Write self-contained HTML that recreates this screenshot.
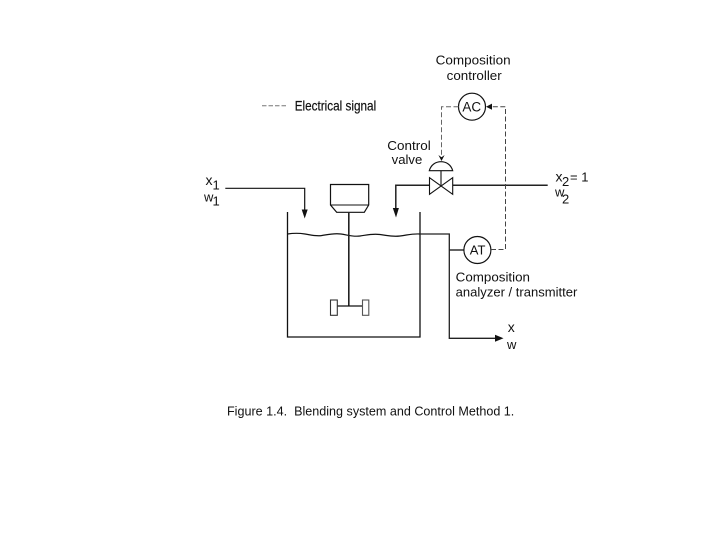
<!DOCTYPE html>
<html>
<head>
<meta charset="utf-8">
<style>
html,body{margin:0;padding:0;background:#fff;width:720px;height:540px;overflow:hidden}
svg{display:block;filter:blur(0.35px)}
text{font-family:"Liberation Sans",sans-serif;fill:#111;font-size:13px}
</style>
</head>
<body>
<svg width="720" height="540" viewBox="0 0 720 540" xmlns="http://www.w3.org/2000/svg">
<rect width="720" height="540" fill="#fff"/>

<!-- Legend -->
<line x1="262" y1="105.7" x2="287" y2="105.7" stroke="#777" stroke-width="1" stroke-dasharray="4.5 2"/>
<text x="294.7" y="110.5" textLength="81.5" lengthAdjust="spacingAndGlyphs" style="font-size:14px;stroke:#111;stroke-width:0.2px">Electrical signal</text>

<!-- Labels -->
<text x="435.7" y="64.5" textLength="75" lengthAdjust="spacingAndGlyphs">Composition</text>
<text x="446.7" y="80" textLength="55" lengthAdjust="spacingAndGlyphs">controller</text>
<text x="387.3" y="150" textLength="43.4" lengthAdjust="spacingAndGlyphs">Control</text>
<text x="391.7" y="164" textLength="30.6" lengthAdjust="spacingAndGlyphs">valve</text>
<text x="455.7" y="281.7" textLength="74.3" lengthAdjust="spacingAndGlyphs">Composition</text>
<text x="455.7" y="296.7" textLength="121.6" lengthAdjust="spacingAndGlyphs">analyzer / transmitter</text>

<!-- Feed variables -->
<text x="205.5" y="185" style="font-size:14px">x</text>
<text x="212.5" y="189.5" style="font-size:13px">1</text>
<text x="204" y="201.7" style="font-size:13px">w</text>
<text x="212.5" y="205.5" style="font-size:13px">1</text>
<text x="555.5" y="181.7" style="font-size:14px">x</text>
<text x="562" y="186" style="font-size:13px">2</text>
<text x="570" y="181.7" style="font-size:13px">= 1</text>
<text x="555" y="196.7" style="font-size:13px">w</text>
<text x="562" y="203.5" style="font-size:13px">2</text>
<text x="507.8" y="332" style="font-size:14px">x</text>
<text x="507" y="349" style="font-size:13px">w</text>

<!-- Caption -->
<text x="227" y="415.7" textLength="287.3" lengthAdjust="spacingAndGlyphs" style="font-size:13px">Figure 1.4.&#160; Blending system and Control Method 1.</text>

<!-- Tank -->
<path d="M287.5 212V337H420V212" fill="none" stroke="#111" stroke-width="1.3"/>
<!-- Liquid surface -->
<path d="M287.5 234C294 233 299 233 305 234S316 236.5 322 235.5S334 233 341 234S353 237 360 236S372 233.5 380 234.5S392 237 400 236S412 233.5 420 234" fill="none" stroke="#111" stroke-width="1.2"/>

<!-- Motor -->
<path d="M330.5 184.5H368.7V205L364.3 212.3H336.7L330.5 205Z" fill="#fff" stroke="#111" stroke-width="1.2"/>
<line x1="330.5" y1="205" x2="368.7" y2="205" stroke="#111" stroke-width="1"/>
<!-- Shaft and paddles -->
<line x1="348.8" y1="212" x2="348.8" y2="306" stroke="#222" stroke-width="1.6"/>
<line x1="337" y1="306" x2="362.5" y2="306" stroke="#111" stroke-width="1.3"/>
<rect x="330.5" y="300" width="6.8" height="15.3" fill="#fff" stroke="#333" stroke-width="1.1"/>
<rect x="362.5" y="300" width="6.3" height="15.3" fill="#fff" stroke="#555" stroke-width="1.1"/>

<!-- Feed 1 -->
<path d="M225.3 188.3H304.7V211" fill="none" stroke="#111" stroke-width="1.2"/>
<path d="M301.7 209.5H307.7L304.7 218.5Z" fill="#111"/>

<!-- Feed 2 -->
<path d="M547.7 185.3H452.7" fill="none" stroke="#222" stroke-width="1.5"/>
<path d="M429.5 185.3H395.8V209" fill="none" stroke="#222" stroke-width="1.5"/>
<path d="M392.8 208H398.9L396 217.5Z" fill="#111"/>

<!-- Control valve -->
<path d="M429.5 177.7L452.7 194.3V177.7L429.5 194.3Z" fill="#fff" stroke="#111" stroke-width="1.1"/>
<line x1="441" y1="170.7" x2="441" y2="186" stroke="#222" stroke-width="1.2"/>
<path d="M429.3 170.7C431 164.5 436 161.7 441 161.7S451 164.5 452.7 170.7Z" fill="#fff" stroke="#111" stroke-width="1.1"/>

<!-- Outlet -->
<path d="M420 234H449.3V338.3H496" fill="none" stroke="#222" stroke-width="1.3"/>
<path d="M495 334.8L503.5 338.3L495 341.8Z" fill="#111"/>
<line x1="449.3" y1="250" x2="464" y2="250" stroke="#222" stroke-width="1.4"/>

<!-- AT -->
<circle cx="477.4" cy="250" r="13.5" fill="#fff" stroke="#111" stroke-width="1.2"/>
<text x="477.6" y="254.6" text-anchor="middle" style="font-size:13px">AT</text>

<!-- AC -->
<circle cx="472" cy="106.7" r="13.5" fill="#fff" stroke="#111" stroke-width="1.2"/>
<text x="471.8" y="111.7" text-anchor="middle" style="font-size:13.5px">AC</text>

<!-- Signal lines -->
<path d="M491 249.5H505.5V106.7H490" fill="none" stroke="#444" stroke-width="1" stroke-dasharray="5 2.5"/>
<path d="M486 106.7L492 103.6V109.8Z" fill="#111"/>
<path d="M458.5 106.7H441.5V156" fill="none" stroke="#666" stroke-width="1" stroke-dasharray="5 2.5"/>
<path d="M438.4 155L441.5 157.3L444.6 155L441.5 161Z" fill="#111"/>
</svg>
</body>
</html>
